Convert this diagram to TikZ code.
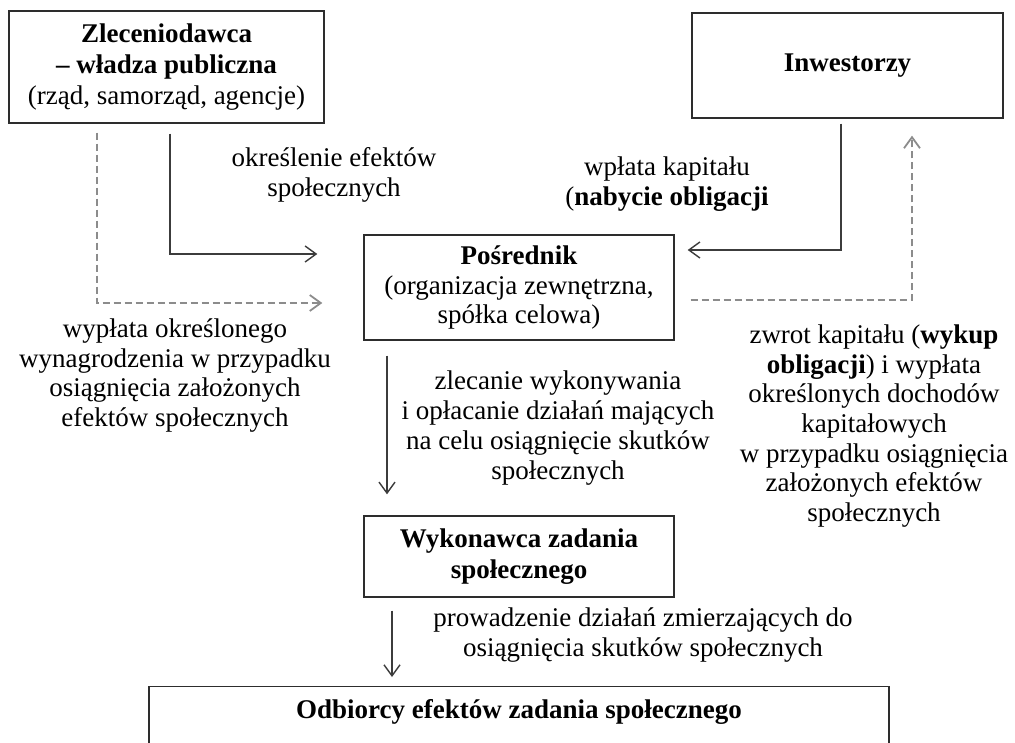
\documentclass[tikz,border=0pt]{standalone}
\usepackage{fontspec}
\setmainfont{Liberation Serif}
\usetikzlibrary{arrows.meta}

\definecolor{boxline}{RGB}{45,45,45}
\definecolor{flowline}{RGB}{60,60,60}
\definecolor{payline}{RGB}{140,140,140}

\begin{document}
\begin{tikzpicture}[x=1pt,y=-1pt,
  font=\fontsize{27}{29.7}\selectfont,
  >={Straight Barb[length=11pt,width=16pt]},
  box/.style={draw=boxline, line width=1.4pt, align=center, inner sep=0pt},
  flow/.style={draw=flowline, line width=1.4pt, ->},
  pay/.style={draw=payline, line width=1.8pt, dash pattern=on 7pt off 4pt, ->},
  note/.style={align=center, inner sep=0pt}]

% canvas
\useasboundingbox (0,0) rectangle (1015,742);
\clip (0,0) rectangle (1015,742);
\fill[white] (0,0) rectangle (1015,742);

% participants
\node[box, minimum width=315pt, minimum height=112pt, font=\fontsize{27}{31}\selectfont]
  (zlec) at (166.5,67)
  {\textbf{Zleceniodawca}\\\textbf{– władza publiczna}\\(rząd, samorząd, agencje)};
\node[box, minimum width=311pt, minimum height=105pt] (inw) at (847.5,65.5)
  {\textbf{Inwestorzy}};
\node[box, minimum width=310pt, minimum height=105pt] (pos) at (519,287.5)
  {\textbf{Pośrednik}\\(organizacja zewnętrzna,\\spółka celowa)};
\node[box, minimum width=310pt, minimum height=81pt, font=\fontsize{27}{30.5}\selectfont]
  (wyk) at (519,556.5)
  {\textbf{Wykonawca zadania}\\\textbf{społecznego}};
\node[box, minimum width=740pt, anchor=north, text height=19pt, text depth=80pt,
      inner ysep=13pt] (odb) at (519,686)
  {\textbf{Odbiorcy efektów zadania społecznego}};

% bends of the connectors
\coordinate (k1) at (170,254);
\coordinate (k2) at (97,303);
\coordinate (k3) at (841,250);
\coordinate (k4) at (912,300);
\coordinate (k5) at (387,0);
\coordinate (k6) at (392,0);

% connectors
\draw[flow, shorten <=10pt, shorten >=46pt] (zlec.south -| k1) -- (k1) -- (pos.west |- k1);
\draw[pay, shorten <=9pt, shorten >=41pt] (zlec.south -| k2) -- (k2) -- (pos.west |- k2);
\draw[flow, shorten <=5pt, shorten >=13pt] (inw.south -| k3) -- (k3) -- (pos.east |- k3);
\draw[pay, shorten <=16pt, shorten >=17pt] (pos.east |- k4) -- (k4) -- (inw.south -| k4);
\draw[flow, shorten <=15pt, shorten >=21pt] (pos.south -| k5) -- (wyk.north -| k5);
\draw[flow, shorten <=13pt, shorten >=9pt] (wyk.south -| k6) -- (odb.north -| k6);

% labels
\node[note] (t1) at (334,175) {określenie efektów\\społecznych};
\node[note] (t2) at (667,184) {wpłata kapitału\\(\textbf{nabycie obligacji}};
\node[note] (t3) at (175,375.5) {wypłata określonego\\wynagrodzenia w przypadku\\osiągnięcia założonych\\efektów społecznych};
\node[note] (t4) at (558,428) {zlecanie wykonywania\\i opłacanie działań mających\\na celu osiągnięcie skutków\\społecznych};
\node[note] (t5) at (874,426) {zwrot kapitału (\textbf{wykup}\\\textbf{obligacji}) i wypłata\\określonych dochodów\\kapitałowych\\w przypadku osiągnięcia\\założonych efektów\\społecznych};
\node[note] (t6) at (643,635) {prowadzenie działań zmierzających do\\osiągnięcia skutków społecznych};
\end{tikzpicture}
\end{document}
